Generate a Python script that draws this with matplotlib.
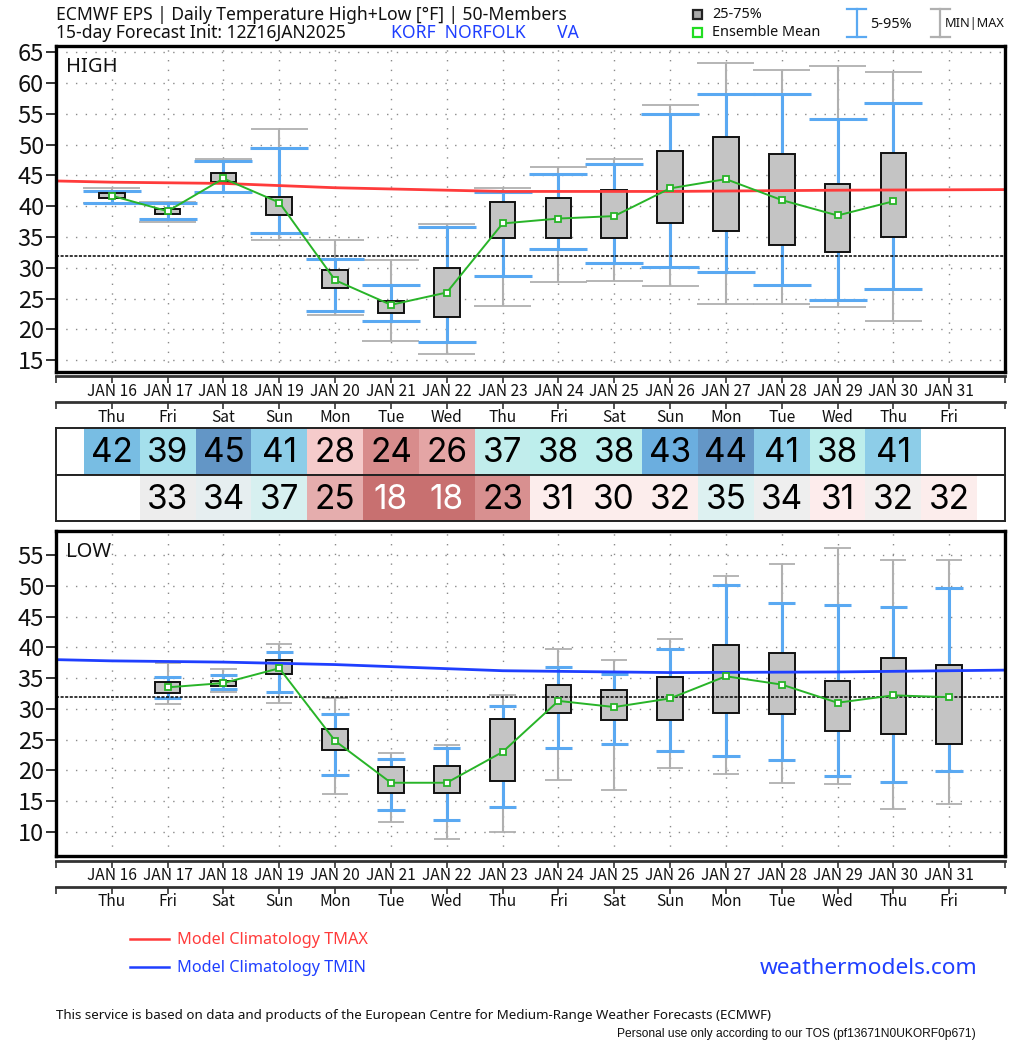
import matplotlib
matplotlib.use('Agg')
import matplotlib.pyplot as plt
from matplotlib.patches import Rectangle

plt.rcParams['font.family'] = ['Noto Sans', 'DejaVu Sans']
CJK = ['Noto Sans CJK JP', 'DejaVu Sans']

W, H = 1024, 1044
days = list(range(16, 32))
dow = ['Thu','Fri','Sat','Sun','Mon','Tue','Wed','Thu','Fri','Sat','Sun','Mon','Tue','Wed','Thu','Fri']
date_labels = [f'JAN {d}' for d in days]

# HIGH panel (Jan 16 - Jan 30)
hi_days = days[:15]
hi_mean = [41.7,39.2,44.5,40.6,28.0,24.0,26.0,37.2,38.0,38.4,42.9,44.4,41.0,38.5,40.8]
hi_q25 = [41.3,38.7,43.9,38.6,26.7,22.7,22.0,34.8,34.8,34.8,37.3,36.0,33.7,32.5,35.0]
hi_q75 = [42.2,39.6,45.4,41.5,29.6,24.7,30.0,40.7,41.4,42.6,48.9,51.2,48.4,43.6,48.7]
hi_p05 = [40.6,38.0,42.3,35.6,23.0,21.4,18.0,28.7,33.0,30.8,30.2,29.4,27.2,24.8,26.5]
hi_p95 = [42.5,40.5,47.3,49.5,31.5,27.2,36.6,42.3,45.2,46.8,55.0,58.2,58.2,54.2,56.8]
hi_min = [40.6,37.5,42.3,34.6,22.3,18.1,16.0,23.8,27.7,27.8,27.0,24.1,24.2,23.6,21.4]
hi_max = [43.0,40.7,47.7,52.6,34.5,31.2,37.1,43.0,46.4,47.6,56.5,63.2,62.1,62.8,61.7]

# LOW panel (Jan 17 - Jan 31)
lo_days = days[1:]
lo_mean = [33.5,34.2,36.6,24.8,18.0,18.0,23.0,31.3,30.3,31.7,35.3,33.95,31.0,32.2,31.9]
lo_q25 = [32.55,33.7,35.6,23.4,16.4,16.4,18.35,29.35,28.2,28.2,29.3,29.2,26.4,25.9,24.3]
lo_q75 = [34.3,34.5,38.0,26.75,20.5,20.8,28.4,33.95,33.1,35.2,40.4,39.0,34.5,38.3,37.15]
lo_p05 = [31.8,33.2,32.7,19.2,13.55,11.9,14.0,23.6,24.3,23.1,22.4,21.7,19.1,18.1,19.9]
lo_p95 = [35.25,35.5,39.25,29.1,21.8,23.6,30.5,36.75,35.7,39.75,50.1,47.2,46.9,46.55,49.6]
lo_min = [30.8,32.8,31.0,16.2,11.7,8.85,10.0,18.5,16.85,20.4,19.5,18.0,17.8,13.75,14.5]
lo_max = [37.5,36.5,40.55,31.7,22.85,24.2,32.2,39.75,38.0,41.4,51.6,53.5,56.1,54.2,54.2]

# Model climatology
clim_x = [15,16,18,20,23,26,29,32]
tmax = [44.1,43.9,43.7,43.0,42.4,42.4,42.6,42.7]
tmin = [38.0,37.8,37.6,37.2,36.2,35.9,36.0,36.3]

# Table
hi_txt = [42,39,45,41,28,24,26,37,38,38,43,44,41,38,41]
hi_col = ['#78BDE3','#A5E0EC','#6396C6','#8DCDE8','#F5CBCB','#D88C8C','#E4A5A5','#C1EDEC','#BDEEEC','#BDEEEC',
          '#6BAEDF','#6496C6','#8DCDE8','#BDEEEC','#8DCDE8']
lo_txt = [33,34,37,25,18,18,23,31,30,32,35,34,31,32,32]
lo_col = ['#EDEDED','#E6EEF0','#D7F0F0','#E5ADAD','#C87070','#C87070','#D89090','#FCEDEC','#FCEDEC','#FCEDEC',
          '#DDF1F1','#EEEEEE','#FDECEC','#F2EFEE','#FCEDEC']

RED, BLUE, LBLUE, GRAY, GREEN = '#FF3B3B', '#1F3FFF', '#5AA9F2', '#B0B0B0', '#28B428'
INK = '#111111'
XMIN, XMAX = 15, 32

fig = plt.figure(figsize=(W/100, H/100), dpi=100)

def axpx(x0, y0, x1, y1, **kw):
    return fig.add_axes([x0/W, 1-y1/H, (x1-x0)/W, (y1-y0)/H], **kw)

def panel(box, ylim, yticks, d, mean, q25, q75, p05, p95, mn, mx, clim, cc, label, capb, capg, laby):
    ax = axpx(*box)
    ax.set_xlim(XMIN, XMAX); ax.set_ylim(*ylim)
    ax.set_xticks(range(16, 32)); ax.set_yticks(yticks)
    ax.grid(True, color='#8A8A8A', ls=(0, (1, 6)), lw=1.0, zorder=0)
    ax.tick_params(axis='x', length=0, labelbottom=False)
    ax.tick_params(axis='y', length=7, width=1.2, labelsize=17, pad=1.5, colors=INK)
    for t in ax.get_yticklabels():
        t.set_fontfamily(CJK)
    for s in ax.spines.values():
        s.set_linewidth(2.4); s.set_color('black'); s.set_zorder(10)
    ax.axhline(32, color='black', ls=(0, (2, 1)), lw=1.1, zorder=5.5)
    ax.plot(clim_x, clim, color=cc, lw=2.0, zorder=6)
    ax.vlines(d, mn, mx, color=GRAY, lw=1.5, zorder=3)
    ax.hlines(mn, [x-capg for x in d], [x+capg for x in d], color=GRAY, lw=1.3, zorder=3)
    ax.hlines(mx, [x-capg for x in d], [x+capg for x in d], color=GRAY, lw=1.3, zorder=3)
    ax.vlines(d, p05, p95, color=LBLUE, lw=2.2, zorder=4)
    ax.hlines(p05, [x-capb for x in d], [x+capb for x in d], color=LBLUE, lw=2.2, zorder=4)
    ax.hlines(p95, [x-capb for x in d], [x+capb for x in d], color=LBLUE, lw=2.2, zorder=4)
    for x, a, b in zip(d, q25, q75):
        ax.add_patch(Rectangle((x-.23, a), .46, b-a, fc='#C4C4C4', ec='#111111', lw=1.4, zorder=5))
    ax.plot(d, mean, color=GREEN, lw=1.4, marker='s', ms=5, mfc='white', mec=GREEN, mew=1.3, zorder=7)
    fig.text(66/W, 1-laby/H, label, fontsize=14.5, va='center', color=INK, zorder=8)
    return ax

def strip(y_top, y_mid, off1, off2):
    for y0, labels, ytxt in ((y_top, date_labels, y_top+off1), (y_mid, dow, y_mid+off2)):
        a = axpx(56, y0, 1005, y0+7)
        a.set_xlim(XMIN, XMAX); a.set_ylim(1, 0)
        a.patch.set_alpha(0)
        for s in ('left', 'right', 'bottom'):
            a.spines[s].set_visible(False)
        a.spines['top'].set_linewidth(2); a.spines['top'].set_color('#333333')
        a.set_yticks([]); a.set_xticks([])
        a.vlines(range(XMIN, XMAX+1), 0, 1, color='#333333', lw=1.2, clip_on=False)
        for d, t in zip(days, labels):
            a.annotate(t, (d, 0), xytext=(0, -(ytxt-y0)*0.72), textcoords='offset points',
                       ha='center', va='center', fontsize=11.2, color=INK, annotation_clip=False,
                       family=CJK)

panel((56, 46, 1005, 372), (13.1, 66.0), range(15, 70, 5), hi_days, hi_mean, hi_q25, hi_q75,
      hi_p05, hi_p95, hi_min, hi_max, tmax, RED, 'HIGH', .52, .51, 67)
panel((56, 531, 1005, 856), (6.1, 58.9), range(10, 60, 5), lo_days, lo_mean, lo_q25, lo_q75,
      lo_p05, lo_p95, lo_min, lo_max, tmin, BLUE, 'LOW', .245, .235, 552)
strip(376, 402, 15.5, 15.5)
strip(860.5, 886.5, 15.5, 15.5)

# Value table
for box, d, vals, cols in (((56, 428, 1005, 474.5), hi_days, hi_txt, hi_col),
                           ((56, 474.5, 1005, 521), lo_days, lo_txt, lo_col)):
    t = axpx(*box)
    t.set_xlim(XMIN, XMAX); t.set_ylim(0, 1)
    t.set_xticks([]); t.set_yticks([])
    for s in t.spines.values():
        s.set_linewidth(1.4); s.set_color('#222222')
    for x, v, c in zip(d, vals, cols):
        t.add_patch(Rectangle((x-.5, 0), 1, 1, fc=c, ec='none'))
        t.text(x, 0.46, str(v), ha='center', va='center', fontsize=24,
               family='Inter', color='white' if v <= 18 else 'black')

# Overlay in pixel coordinates: titles, legend keys, credits
o = fig.add_axes([0, 0, 1, 1], zorder=20)
o.set_xlim(0, W); o.set_ylim(H, 0); o.axis('off')
o.text(56, 15, 'ECMWF EPS | Daily Temperature High+Low [°F] | 50-Members', fontsize=12.6, va='center', color=INK)
o.text(56, 33, '15-day Forecast Init: 12Z16JAN2025', fontsize=12.6, va='center', color=INK)
o.text(391, 33, 'KORF  NORFOLK       VA', fontsize=12.6, va='center', color=BLUE)

o.add_patch(Rectangle((693, 10), 9, 9, fc='#AAAAAA', ec='#222222', lw=1.6))
o.text(712, 15, '25-75%', fontsize=10.4, va='center', color=INK)
o.add_patch(Rectangle((693, 28), 9, 9, fc='white', ec='#22DD22', lw=1.6))
o.text(712, 33, 'Ensemble Mean', fontsize=10.4, va='center', color=INK)
o.plot([857, 857], [9, 37], color=LBLUE, lw=1.6)
o.plot([847, 866], [9, 9], color=LBLUE, lw=1.6); o.plot([847, 866], [37, 37], color=LBLUE, lw=1.6)
o.text(870, 24, '5-95%', fontsize=10.4, va='center', color=INK)
o.plot([940, 940], [9, 37], color=GRAY, lw=1.6)
o.plot([931, 950], [9, 9], color=GRAY, lw=1.6); o.plot([931, 950], [37, 37], color=GRAY, lw=1.6)
o.text(945, 23, 'MIN|MAX', fontsize=9.2, va='center', color=INK)

o.plot([130, 169], [939, 939], color=RED, lw=1.8)
o.text(177, 940, 'Model Climatology TMAX', fontsize=11.7, va='center', color=RED)
o.plot([130, 169], [967, 967], color=BLUE, lw=1.8)
o.text(177, 968, 'Model Climatology TMIN', fontsize=11.7, va='center', color=BLUE)
o.text(977, 969, 'weathermodels.com', fontsize=16.3, va='center', ha='right', color=BLUE)
o.text(56, 1015, 'This service is based on data and products of the European Centre for Medium-Range Weather Forecasts (ECMWF)',
       fontsize=9.6, va='center', color=INK)
o.text(976, 1034, 'Personal use only according to our TOS (pf13671N0UKORF0p671)', fontsize=8.65, va='center', ha='right',
       color=INK, family='Liberation Sans')

fig.savefig('out.png', dpi=100)
